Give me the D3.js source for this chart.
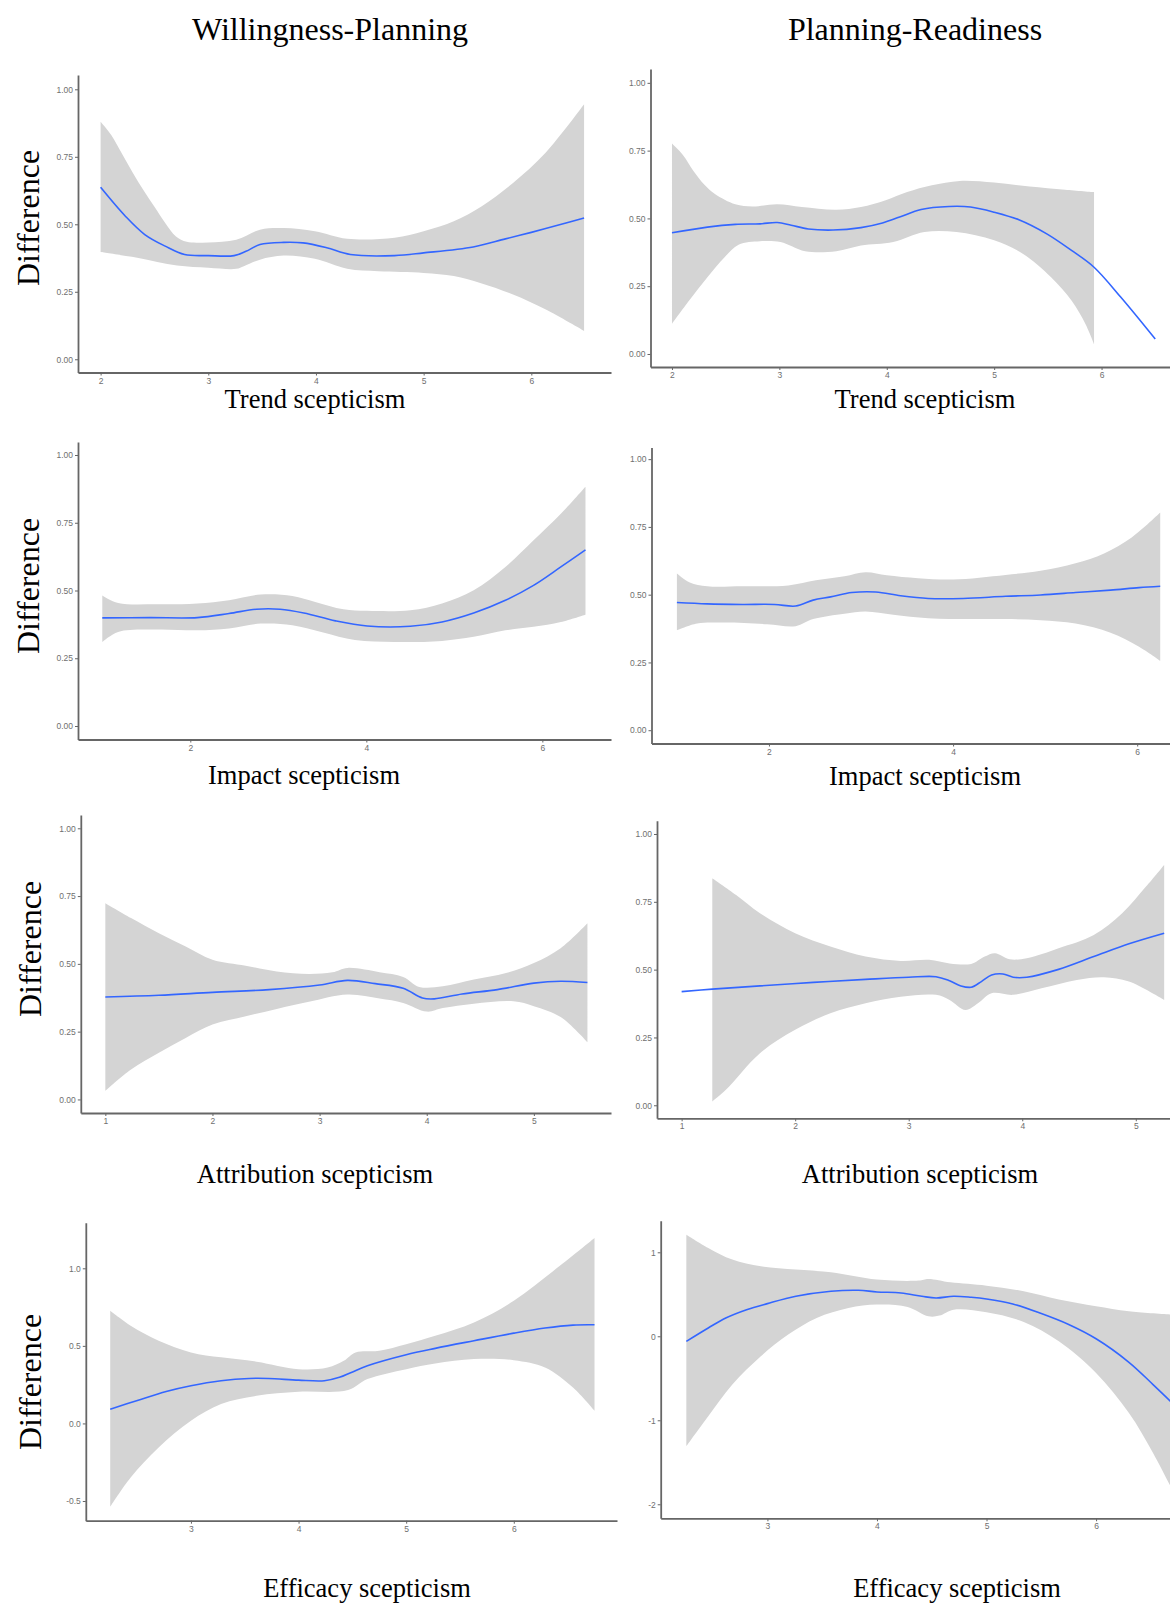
<!DOCTYPE html>
<html>
<head>
<meta charset="utf-8">
<script src="https://cdn.jsdelivr.net/npm/d3@7"></script>
<style>
  body { margin: 0; background: #fff; }
  svg { display: block; }
  .axis path.domain { stroke: #666; stroke-width: 1.8; }
  .axis line { stroke: #666; stroke-width: 1; }
  .axis text { fill: #6f6f6f; font-family: "Liberation Sans", Arial, sans-serif; font-size: 8.5px; }
  .lab { font-family: "Liberation Serif", "Times New Roman", serif; fill: #000; }
</style>
</head>
<body>
<svg id="fig" width="1170" height="1604"></svg>
<script>
'use strict'

var svg = d3.select('#fig')

var colTitles = ['Willingness-Planning', 'Planning-Readiness']
var xTitles = ['Trend scepticism', 'Impact scepticism', 'Attribution scepticism', 'Efficacy scepticism']
var yTitle = 'Difference'

var tickDec = [0, 0.25, 0.5, 0.75, 1]

// --- trend scepticism, willingness-planning
var wpTrendLine = [[2.0,0.637],[2.23,0.53],[2.41,0.462],[2.6,0.419],[2.78,0.388],[3.0,0.384],[3.24,0.384],[3.35,0.40],
  [3.48,0.425],[3.7,0.433],[3.88,0.431],[4.1,0.413],[4.32,0.388],[4.73,0.384],[5.0,0.394],[5.46,0.416],[5.76,0.446],
  [6.0,0.470],[6.27,0.499],[6.49,0.523]]
var wpTrendUpper = [[2.0,0.88],[2.1,0.83],[2.2,0.76],[2.3,0.69],[2.4,0.625],[2.5,0.565],[2.6,0.505],[2.7,0.455],
  [2.8,0.435],[3.0,0.433],[3.26,0.443],[3.48,0.48],[3.7,0.486],[3.99,0.474],[4.29,0.446],[4.73,0.45],[5.0,0.474],
  [5.28,0.511],[5.54,0.567],[5.83,0.653],[6.13,0.764],[6.49,0.945]]
var wpTrendLower = [[2.0,0.397],[2.34,0.376],[2.71,0.347],[3.0,0.339],[3.26,0.335],[3.33,0.345],[3.48,0.369],[3.7,0.384],
  [3.99,0.372],[4.29,0.335],[4.58,0.326],[5.0,0.32],[5.28,0.308],[5.54,0.281],[5.83,0.24],[6.13,0.185],[6.49,0.105]]

// --- trend scepticism, planning-readiness
var prTrendLine = [[2.0,0.447],[2.33,0.468],[2.59,0.478],[2.82,0.48],[2.98,0.485],[3.11,0.475],[3.27,0.461],[3.5,0.457],
  [3.76,0.466],[3.96,0.483],[4.12,0.505],[4.32,0.533],[4.58,0.544],[4.78,0.542],[5.0,0.523],[5.23,0.495],[5.49,0.443],
  [5.72,0.382],[5.93,0.32],[6.18,0.209],[6.5,0.055]]
var prTrendUpper = [[2.0,0.776],[2.1,0.735],[2.2,0.675],[2.3,0.625],[2.4,0.59],[2.59,0.552],[2.75,0.544],[2.98,0.552],
  [3.21,0.542],[3.53,0.532],[3.76,0.542],[3.99,0.567],[4.19,0.597],[4.42,0.622],[4.68,0.638],[5.0,0.632],[5.33,0.618],
  [5.66,0.606],[5.93,0.597]]
var prTrendLower = [[2.0,0.111],[2.16,0.197],[2.33,0.283],[2.49,0.357],[2.62,0.403],[2.82,0.416],[3.01,0.413],[3.24,0.379],
  [3.53,0.379],[3.76,0.40],[4.06,0.413],[4.35,0.45],[4.65,0.45],[5.0,0.419],[5.27,0.369],[5.53,0.283],[5.72,0.197],
  [5.85,0.111],[5.93,0.037]]

// --- impact scepticism, willingness-planning
var wpImpactLine = [[1.0,0.399],[1.54,0.40],[2.08,0.40],[2.44,0.415],[2.75,0.431],[3.02,0.431],[3.29,0.417],[3.65,0.388],
  [4.01,0.369],[4.5,0.368],[4.86,0.384],[5.22,0.417],[5.58,0.464],[5.9,0.519],[6.21,0.587],[6.49,0.65]]
var wpImpactUpper = [[1.0,0.482],[1.18,0.454],[1.63,0.449],[2.08,0.452],[2.44,0.464],[2.8,0.485],[3.16,0.48],[3.42,0.458],
  [3.74,0.431],[4.01,0.425],[4.5,0.427],[4.86,0.452],[5.22,0.501],[5.58,0.587],[5.9,0.685],[6.21,0.783],[6.49,0.883]]
var wpImpactLower = [[1.0,0.31],[1.18,0.347],[1.63,0.356],[2.08,0.353],[2.44,0.36],[2.8,0.378],[3.16,0.372],[3.51,0.345],
  [3.87,0.317],[4.32,0.31],[4.86,0.314],[5.22,0.329],[5.58,0.353],[5.9,0.366],[6.21,0.384],[6.49,0.411]]

// --- impact scepticism, planning-readiness
var prImpactLine = [[1.0,0.471],[1.33,0.466],[1.71,0.464],[2.06,0.464],[2.29,0.458],[2.48,0.48],[2.67,0.492],[2.9,0.508],
  [3.16,0.51],[3.43,0.496],[3.73,0.486],[4.11,0.486],[4.57,0.494],[4.95,0.499],[5.33,0.508],[5.71,0.517],[6.02,0.526],
  [6.25,0.531]]
var prImpactUpper = [[1.0,0.578],[1.14,0.545],[1.33,0.531],[1.71,0.531],[2.21,0.534],[2.51,0.553],[2.82,0.568],[3.05,0.583],
  [3.28,0.572],[3.62,0.561],[4.0,0.556],[4.57,0.573],[4.95,0.588],[5.33,0.616],[5.64,0.652],[5.94,0.711],[6.25,0.803]]
var prImpactLower = [[1.0,0.369],[1.22,0.394],[1.52,0.397],[1.98,0.391],[2.29,0.384],[2.48,0.41],[2.82,0.43],[3.05,0.438],
  [3.35,0.426],[3.73,0.413],[4.19,0.41],[4.57,0.41],[4.95,0.406],[5.33,0.394],[5.71,0.36],[6.02,0.308],[6.25,0.256]]

// --- attribution scepticism, willingness-planning
var wpAttrLine = [[1.0,0.378],[1.5,0.384],[2.0,0.395],[2.53,0.405],[3.0,0.422],[3.26,0.439],[3.52,0.427],[3.78,0.41],
  [3.96,0.374],[4.07,0.371],[4.33,0.389],[4.66,0.405],[5.0,0.429],[5.25,0.436],[5.5,0.431]]
var wpAttrUpper = [[1.0,0.724],[1.24,0.669],[1.5,0.613],[1.75,0.564],[2.0,0.515],[2.31,0.493],[2.6,0.472],[2.9,0.463],
  [3.12,0.469],[3.26,0.485],[3.56,0.469],[3.78,0.452],[3.93,0.415],[4.15,0.417],[4.44,0.442],[4.74,0.466],[5.0,0.503],
  [5.25,0.558],[5.5,0.65]]
var wpAttrLower = [[1.0,0.031],[1.24,0.11],[1.5,0.172],[1.75,0.227],[2.0,0.276],[2.31,0.307],[2.6,0.334],[2.9,0.36],
  [3.26,0.387],[3.56,0.372],[3.78,0.356],[4.0,0.324],[4.15,0.337],[4.44,0.353],[4.81,0.362],[5.0,0.344],[5.25,0.304],
  [5.5,0.211]]

// --- attribution scepticism, planning-readiness
var prAttrLine = [[1.0,0.419],[1.27,0.428],[1.69,0.44],[2.16,0.453],[2.62,0.464],[3.0,0.472],[3.24,0.474],[3.36,0.459],
  [3.46,0.44],[3.55,0.435],[3.64,0.456],[3.73,0.48],[3.83,0.484],[3.92,0.472],[4.04,0.472],[4.32,0.501],[4.63,0.548],
  [4.94,0.595],[5.25,0.634]]
var prAttrUpper = [[1.27,0.837],[1.48,0.775],[1.69,0.708],[2.0,0.634],[2.31,0.585],[2.62,0.548],[2.93,0.532],[3.18,0.536],
  [3.36,0.523],[3.55,0.521],[3.67,0.548],[3.76,0.56],[3.89,0.538],[4.04,0.542],[4.32,0.579],[4.63,0.628],[4.88,0.708],
  [5.09,0.806],[5.25,0.886]]
var prAttrLower = [[1.27,0.014],[1.39,0.057],[1.69,0.192],[2.0,0.278],[2.31,0.339],[2.62,0.376],[2.93,0.40],[3.24,0.407],
  [3.36,0.388],[3.5,0.351],[3.61,0.376],[3.73,0.413],[3.92,0.407],[4.17,0.431],[4.48,0.462],[4.72,0.472],[4.94,0.456],
  [5.25,0.388]]

// --- efficacy scepticism, willingness-planning
var wpEffLine = [[2.25,0.092],[2.51,0.15],[2.77,0.206],[3.0,0.243],[3.28,0.275],[3.54,0.29],[3.72,0.29],[4.0,0.279],
  [4.24,0.275],[4.38,0.297],[4.49,0.329],[4.64,0.372],[5.0,0.443],[5.27,0.484],[5.63,0.533],[6.0,0.582],[6.29,0.615],
  [6.55,0.634],[6.75,0.636]]
var wpEffUpper = [[2.25,0.726],[2.44,0.63],[2.7,0.533],[3.0,0.458],[3.28,0.426],[3.61,0.398],[4.0,0.35],[4.27,0.361],
  [4.42,0.404],[4.53,0.458],[4.75,0.469],[5.0,0.511],[5.27,0.565],[5.63,0.651],[6.0,0.791],[6.37,0.984],[6.75,1.195]]
var wpEffLower = [[2.25,-0.537],[2.44,-0.348],[2.7,-0.155],[3.0,0.017],[3.28,0.125],[3.61,0.178],[4.0,0.204],[4.46,0.215],
  [4.64,0.286],[5.0,0.35],[5.27,0.387],[5.63,0.415],[6.0,0.408],[6.29,0.361],[6.55,0.232],[6.75,0.082]]

// --- efficacy scepticism, planning-readiness
var prEffLine = [[2.26,-0.06],[2.46,0.099],[2.62,0.218],[2.81,0.317],[3.0,0.389],[3.26,0.476],[3.58,0.536],[3.83,0.548],
  [4.0,0.528],[4.22,0.516],[4.41,0.476],[4.54,0.456],[4.7,0.476],[4.86,0.464],[5.0,0.444],[5.24,0.385],[5.5,0.27],
  [5.75,0.14],[6.0,-0.03],[6.3,-0.31],[6.52,-0.575],[6.7,-0.80]]
var prEffUpper = [[2.26,1.21],[2.46,1.052],[2.68,0.913],[2.94,0.833],[3.26,0.794],[3.58,0.762],[4.0,0.675],[4.38,0.663],
  [4.47,0.683],[4.67,0.643],[5.0,0.603],[5.34,0.536],[5.66,0.437],[6.0,0.357],[6.3,0.298],[6.7,0.258]]
var prEffLower = [[2.26,-1.31],[2.46,-0.952],[2.68,-0.575],[2.94,-0.238],[3.19,0.02],[3.45,0.218],[3.74,0.337],[4.0,0.377],
  [4.28,0.349],[4.47,0.238],[4.57,0.246],[4.7,0.317],[5.0,0.286],[5.34,0.17],[5.66,-0.06],[6.0,-0.437],[6.3,-0.913],
  [6.52,-1.389],[6.7,-1.84]]

var fmt2 = d => d.toFixed(2)
var fmt1 = d => d.toFixed(1)
var fmt0 = d => String(d)

// layout of each panel: box = [left, right, top, bottom] in px
var panels = [
  {line: wpTrendLine, upper: wpTrendUpper, lower: wpTrendLower, box: [78, 611, 75, 372.5],
   xDom: [1.79, 6.74], yDom: [-0.049, 1.053], xTicks: [2,3,4,5,6], yTicks: tickDec, fmt: fmt2,
   row: 0, xt: [315, 408], yl: [39, 218]},
  {line: prTrendLine, upper: prTrendUpper, lower: prTrendLower, box: [650.5, 1172, 69, 367],
   xDom: [1.80, 6.656], yDom: [-0.048, 1.051], xTicks: [2,3,4,5,6], yTicks: tickDec, fmt: fmt2,
   row: 0, xt: [925, 408]},
  {line: wpImpactLine, upper: wpImpactUpper, lower: wpImpactLower, box: [78, 611, 442, 739.5],
   xDom: [0.724, 6.78], yDom: [-0.0498, 1.048], xTicks: [2,4,6], yTicks: tickDec, fmt: fmt2,
   row: 1, xt: [304, 784], yl: [39, 586]},
  {line: prImpactLine, upper: prImpactUpper, lower: prImpactLower, box: [651.5, 1172, 447.5, 743.5],
   xDom: [0.724, 6.378], yDom: [-0.049, 1.043], xTicks: [2,4,6], yTicks: tickDec, fmt: fmt2,
   row: 1, xt: [925, 785]},
  {line: wpAttrLine, upper: wpAttrUpper, lower: wpAttrLower, box: [80.8, 611, 815, 1113],
   xDom: [0.771, 5.72], yDom: [-0.05, 1.049], xTicks: [1,2,3,4,5], yTicks: tickDec, fmt: fmt2,
   row: 2, xt: [315, 1183], yl: [41, 949]},
  {line: prAttrLine, upper: prAttrUpper, lower: prAttrLower, box: [657, 1172, 820.7, 1118.3],
   xDom: [0.783, 5.319], yDom: [-0.048, 1.049], xTicks: [1,2,3,4,5], yTicks: tickDec, fmt: fmt2,
   row: 2, xt: [920, 1183]},
  {line: wpEffLine, upper: wpEffUpper, lower: wpEffLower, box: [85.8, 617, 1222.7, 1520.7],
   xDom: [2.023, 6.959], yDom: [-0.627, 1.294], xTicks: [3,4,5,6], yTicks: [-0.5, 0, 0.5, 1], fmt: fmt1,
   row: 3, xt: [367, 1597], yl: [41, 1382]},
  {line: prEffLine, upper: prEffUpper, lower: prEffLower, box: [660.7, 1172, 1220.7, 1518.3],
   xDom: [2.026, 6.693], yDom: [-2.167, 1.376], xTicks: [3,4,5,6], yTicks: [-2, -1, 0, 1], fmt: fmt0,
   row: 3, xt: [957, 1597]}
]

// column headers
svg.selectAll('text.col')
  .data(colTitles)
  .enter()
    .append('text')
    .attr('class', 'lab col')
    .attr('x', (d, i) => i == 0 ? 330 : 915)
    .attr('y', 39.5)
    .attr('text-anchor', 'middle')
    .style('font-size', '32px')
    .text(d => d)

panels.forEach(function(p) {

  var x = d3.scaleLinear().domain(p.xDom).range([p.box[0], p.box[1]])
  var y = d3.scaleLinear().domain(p.yDom).range([p.box[3], p.box[2]])

  var g = svg.append('g')

  var curve = d3.line()
    .x(d => x(d[0]))
    .y(d => y(d[1]))
    .curve(d3.curveCatmullRom.alpha(0.5))

  // confidence band: upper edge forward, lower edge back
  g.append('path')
    .attr('d', curve(p.upper) + curve(p.lower.slice().reverse()).replace('M', 'L') + 'Z')
    .attr('fill', '#d4d4d4')

  g.append('path')
    .attr('d', curve(p.line))
    .attr('fill', 'none')
    .attr('stroke', '#3366ff')
    .attr('stroke-width', 1.6)

  g.append('g')
    .attr('class', 'axis')
    .attr('transform', 'translate(' + p.box[0] + ',0)')
    .call(d3.axisLeft(y).tickValues(p.yTicks).tickFormat(p.fmt)
      .tickSize(3).tickSizeOuter(0).tickPadding(2))

  g.append('g')
    .attr('class', 'axis')
    .attr('transform', 'translate(0,' + p.box[3] + ')')
    .call(d3.axisBottom(x).tickValues(p.xTicks).tickFormat(d3.format('d'))
      .tickSize(3).tickSizeOuter(0).tickPadding(2))

  g.append('text')
    .attr('class', 'lab')
    .attr('x', p.xt[0])
    .attr('y', p.xt[1])
    .attr('text-anchor', 'middle')
    .style('font-size', '26.5px')
    .text(xTitles[p.row])

  if (p.yl) {
    g.append('text')
      .attr('class', 'lab')
      .attr('transform', 'translate(' + p.yl[0] + ',' + p.yl[1] + ') rotate(-90)')
      .attr('text-anchor', 'middle')
      .style('font-size', '32px')
      .text(yTitle)
  }
})
</script>
</body>
</html>
